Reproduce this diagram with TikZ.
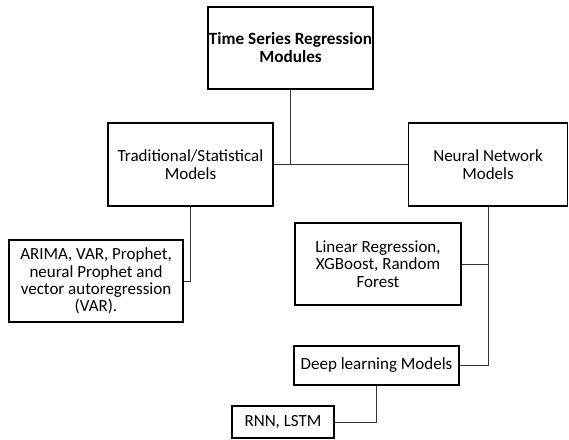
\documentclass[tikz,border=0pt]{standalone}
\usepackage{fontspec}
\setmainfont{Carlito}
\usetikzlibrary{positioning,calc}

\begin{document}
\begin{tikzpicture}[x=1pt, y=-1pt, thick]
        \tikzset{
            root/.style={draw, line width=1.4pt, rectangle, minimum height=82pt, minimum width=165pt, align=center, font=\fontsize{17.2}{18}\selectfont\bfseries, inner sep=1pt},
            module/.style={draw, line width=1.4pt, rectangle, align=center, font=\fontsize{17}{17.4}\selectfont, inner sep=1pt},
            line/.style={draw, line width=0.9pt, black!80}
        }
        \useasboundingbox (0,0) rectangle (569,439);

        % Root
        \node [root] (tsr) at (290.5, 48) {Time Series Regression\\Modules};

        % Model families
        \node [module, minimum width=165pt, minimum height=83pt] (trad) at (190.5, 164.5) {Traditional/Statistical\\Models};
        \node [module, minimum width=159pt, minimum height=83pt] (nn) at (488, 164.5) {Neural Network\\Models};

        % Leaves
        \node [module, minimum width=174pt, minimum height=82pt] (arima) at (96, 281) {ARIMA, VAR, Prophet,\\neural Prophet and\\vector autoregression\\(VAR).};
        \node [module, minimum width=166pt, minimum height=82pt] (linreg) at (378, 264) {Linear Regression,\\XGBoost, Random\\Forest};
        \node [module, minimum width=165pt, minimum height=39pt] (deep) at (376.5, 365.5) {Deep learning Models};
        \node [module, minimum width=102pt, minimum height=32pt] (rnn) at (283, 422) {RNN, LSTM};

        % Connections
        \draw [line] (trad.east) -- (nn.west);
        \draw [line] (tsr.south) -- (tsr.south |- trad.east);
        \draw [line] (trad.south) |- (arima.east);
        \draw [line] (nn.south) |- (deep.east);
        \draw [line] (linreg.east) -- (linreg.east -| nn.south);
        \draw [line] (deep.south) |- (rnn.east);

\end{tikzpicture}
\end{document}
